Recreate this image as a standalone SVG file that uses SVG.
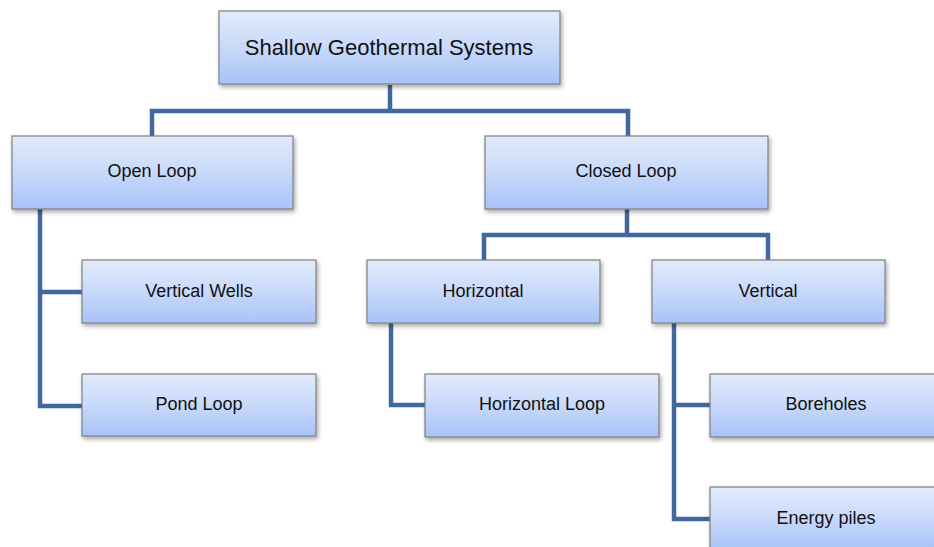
<svg xmlns="http://www.w3.org/2000/svg" width="934" height="547" viewBox="0 0 934 547">
<defs>
<linearGradient id="g" x1="0" y1="0" x2="0" y2="1">
<stop offset="0" stop-color="#e2ebfb"/>
<stop offset="0.5" stop-color="#c8d9fa"/>
<stop offset="1" stop-color="#a7c3f8"/>
</linearGradient>
<filter id="sh" x="-10%" y="-10%" width="130%" height="140%">
<feDropShadow dx="1.5" dy="2.5" stdDeviation="2" flood-color="#000" flood-opacity="0.35"/>
</filter>
</defs>
<style>
.box{fill:url(#g);stroke:#7f7f7f;stroke-width:1.2;filter:url(#sh)}
.t{font-family:"Liberation Sans",Arial,sans-serif;font-size:18px;fill:#111;text-anchor:middle;dominant-baseline:central}
.big{font-size:22px}
.c{fill:none;stroke:#41689c;stroke-width:4.5;stroke-linejoin:miter}
</style>
<rect width="934" height="547" fill="#fff"/>
<g id="connectors">
<path class="c" d="M390 85V111M152 136V111H628V136"/>
<path class="c" d="M40 209V406H82M40 292H82"/>
<path class="c" d="M627 209V235M484 260V235H768V260"/>
<path class="c" d="M391 323V405H425"/>
<path class="c" d="M674 323V519H710M674 405H710"/>
</g>
<g id="root"><rect class="box" x="219" y="11" width="341" height="73"/><text class="t big" x="389" y="47">Shallow Geothermal Systems</text></g>
<g id="open"><rect class="box" x="12" y="136" width="281" height="73"/><text class="t" x="152" y="171">Open Loop</text></g>
<g id="closed"><rect class="box" x="485" y="136" width="283" height="73"/><text class="t" x="626" y="171">Closed Loop</text></g>
<g id="wells"><rect class="box" x="82" y="260" width="234" height="63"/><text class="t" x="199" y="291">Vertical Wells</text></g>
<g id="pond"><rect class="box" x="82" y="374" width="234" height="62"/><text class="t" x="199" y="404">Pond Loop</text></g>
<g id="horizontal"><rect class="box" x="367" y="260" width="233" height="63"/><text class="t" x="483" y="291">Horizontal</text></g>
<g id="vertical"><rect class="box" x="652" y="260" width="233" height="63"/><text class="t" x="768" y="291">Vertical</text></g>
<g id="hloop"><rect class="box" x="425" y="374" width="234" height="63"/><text class="t" x="542" y="404">Horizontal Loop</text></g>
<g id="boreholes"><rect class="box" x="710" y="374" width="233" height="63"/><text class="t" x="826" y="404">Boreholes</text></g>
<g id="piles"><rect class="box" x="710" y="487" width="233" height="63"/><text class="t" x="826" y="518">Energy piles</text></g>
</svg>
